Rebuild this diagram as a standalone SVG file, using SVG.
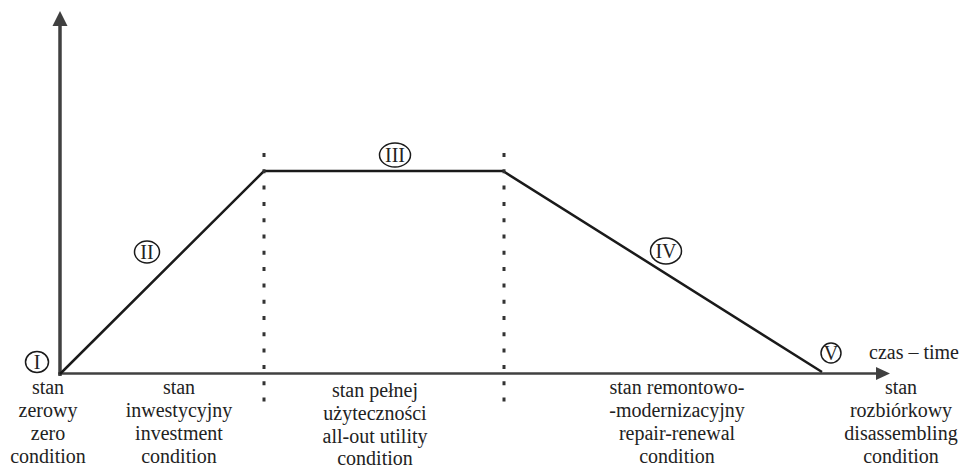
<svg xmlns="http://www.w3.org/2000/svg" width="965" height="466" viewBox="0 0 965 466">
<style>
text{font-size:20px;fill:#222;text-anchor:middle}
.axis{stroke:#404040;fill:none}
.prof{stroke:#1a1a1a;stroke-width:2.5;fill:none}
.dot{stroke:#333;stroke-width:3;stroke-dasharray:4 12.3;fill:none}
.mark ellipse{fill:none;stroke:#1a1a1a;stroke-width:1.5}
</style>
<rect width="965" height="466" fill="#fff"/>
<g id="connectors">
<line class="axis" x1="60" y1="376" x2="60" y2="24" stroke-width="3.5"/>
<polygon points="60,11 67.5,26 52.5,26" fill="#404040"/>
<line class="axis" x1="58" y1="373.5" x2="878" y2="373.5" stroke-width="2.5"/>
<polygon points="890,373.5 876,367 876,380" fill="#404040"/>
<polyline class="prof" points="60,374 264,171 503,171 822,372"/>
<line class="dot" x1="264" y1="153" x2="264" y2="404"/>
<line class="dot" x1="504" y1="153" x2="504" y2="404"/>
</g>
<g font-family="'Times New Roman', Times, 'Liberation Serif', 'DejaVu Serif', serif">
<g id="mark-I" class="mark"><ellipse cx="37" cy="362" rx="11.5" ry="10.5"/><text x="37" y="369">I</text></g>
<g id="mark-II" class="mark"><ellipse cx="147" cy="252" rx="12.5" ry="11"/><text x="147" y="259">II</text></g>
<g id="mark-III" class="mark"><ellipse cx="395" cy="155" rx="15.5" ry="12"/><text x="395" y="162">III</text></g>
<g id="mark-IV" class="mark"><ellipse cx="666" cy="251" rx="15.5" ry="13"/><text x="666" y="258">IV</text></g>
<g id="mark-V" class="mark"><ellipse cx="831" cy="353" rx="10" ry="10"/><text x="831" y="360">V</text></g>
<g id="time-label"><text x="914" y="359">czas – time</text></g>
<g id="state-zero"><text x="48" y="394">stan</text><text x="48" y="417">zerowy</text><text x="48" y="440">zero</text><text x="48" y="463">condition</text></g>
<g id="state-investment"><text x="179" y="394">stan</text><text x="179" y="417">inwestycyjny</text><text x="179" y="440">investment</text><text x="179" y="463">condition</text></g>
<g id="state-utility"><text x="375" y="397">stan pełnej</text><text x="375" y="420">użyteczności</text><text x="375" y="443">all-out utility</text><text x="375" y="465">condition</text></g>
<g id="state-repair"><text x="677" y="394">stan remontowo-</text><text x="677" y="417">-modernizacyjny</text><text x="677" y="440">repair-renewal</text><text x="677" y="463">condition</text></g>
<g id="state-disassembling"><text x="901" y="394">stan</text><text x="901" y="417">rozbiórkowy</text><text x="901" y="440">disassembling</text><text x="901" y="463">condition</text></g>
</g>
</svg>
